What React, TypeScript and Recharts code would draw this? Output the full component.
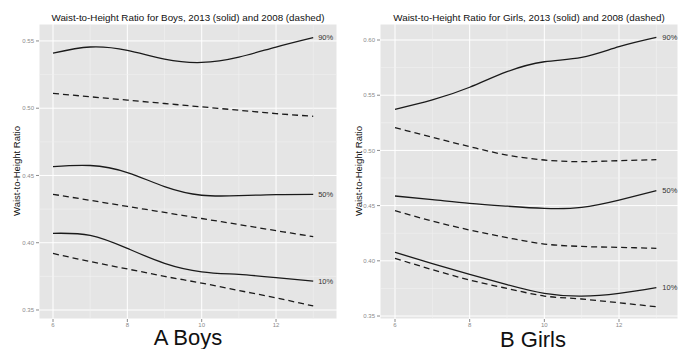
import React from "react";
import { LineChart, Line, XAxis, YAxis, CartesianGrid, ReferenceLine } from "recharts";

// ages on the x axis
const ages = [6, 7, 8, 9, 10, 11, 12, 13];
const xTicks = [6, 8, 10, 12];
const minorX = [7, 9, 11, 13];

// Boys, 2013 solid / 2008 dashed
const boys90_2013 = [0.541, 0.5455, 0.543, 0.5365, 0.534, 0.538, 0.5455, 0.5525];
const boys90_2008 = [0.511, 0.5085, 0.506, 0.5035, 0.501, 0.4985, 0.496, 0.494];
const boys50_2013 = [0.4566, 0.4574, 0.4522, 0.4417, 0.4353, 0.435, 0.4358, 0.436];
const boys50_2008 = [0.436, 0.4315, 0.427, 0.4225, 0.418, 0.4135, 0.409, 0.4045];
const boys10_2013 = [0.407, 0.4055, 0.3958, 0.3847, 0.3784, 0.3764, 0.3741, 0.3715];
const boys10_2008 = [0.392, 0.386, 0.3805, 0.375, 0.37, 0.3645, 0.359, 0.353];

// Girls
const girls90_2013 = [0.5372, 0.5457, 0.5572, 0.5713, 0.5803, 0.5843, 0.594, 0.6024];
const girls90_2008 = [0.5206, 0.512, 0.5034, 0.4958, 0.4913, 0.4898, 0.4907, 0.4916];
const girls50_2013 = [0.4587, 0.4555, 0.4521, 0.4495, 0.4475, 0.4484, 0.455, 0.4635];
const girls50_2008 = [0.4454, 0.436, 0.4279, 0.421, 0.4152, 0.413, 0.4122, 0.4113];
const girls10_2013 = [0.4077, 0.3975, 0.3878, 0.3785, 0.3706, 0.3681, 0.3706, 0.3757];
const girls10_2008 = [0.4023, 0.392, 0.3826, 0.375, 0.3681, 0.3654, 0.362, 0.3584];

const boysYTicks = [0.35, 0.4, 0.45, 0.5, 0.55];
const boysMinorY = [0.375, 0.425, 0.475, 0.525];
const girlsYTicks = [0.35, 0.4, 0.45, 0.5, 0.55, 0.6];
const girlsMinorY = [0.375, 0.425, 0.475, 0.525, 0.575];

const pctLabels = ["90%", "50%", "10%"];

const FONT = '"Liberation Sans", Arial, sans-serif';
const LINE = "#1a1a1a";

function rows(s90: number[], d90: number[], s50: number[], d50: number[], s10: number[], d10: number[]) {
  return ages.map((age, i) => ({
    age,
    s90: s90[i], d90: d90[i],
    s50: s50[i], d50: d50[i],
    s10: s10[i], d10: d10[i],
  }));
}

const boysData = rows(boys90_2013, boys90_2008, boys50_2013, boys50_2008, boys10_2013, boys10_2008);
const girlsData = rows(girls90_2013, girls90_2008, girls50_2013, girls50_2008, girls10_2013, girls10_2008);

const endLabel = (text: string, gap: number) => (props: any) => {
  if (props.index !== ages.length - 1) return null;
  return (
    <text x={props.x + gap} y={props.y} dy="0.35em" fontSize={7.5} fill="#333" fontFamily={FONT}>
      {text}
    </text>
  );
};

interface PanelProps {
  data: any[];
  width: number;
  yWidth: number;
  rightMargin: number;
  xDomain: [number, number];
  yDomain: [number, number];
  yTicks: number[];
  minorY: number[];
  labelGap: number;
}

function Panel({ data, width, yWidth, rightMargin, xDomain, yDomain, yTicks, minorY, labelGap }: PanelProps) {
  const tickStyle = { fontSize: 6, fill: "#8a8a8a", fontFamily: FONT };
  return (
    <LineChart width={width} height={349} data={data} margin={{ top: 24, right: rightMargin, bottom: 0, left: 0 }}>
      <CartesianGrid fill="#e5e5e5" stroke="#ffffff" strokeWidth={1} />
      {minorX.map((v) => (
        <ReferenceLine key={"mx" + v} x={v} stroke="#f2f2f2" strokeWidth={0.6} />
      ))}
      {minorY.map((v) => (
        <ReferenceLine key={"my" + v} y={v} stroke="#f2f2f2" strokeWidth={0.6} />
      ))}
      <XAxis
        type="number"
        dataKey="age"
        domain={xDomain}
        ticks={xTicks}
        allowDataOverflow
        axisLine={false}
        tickSize={3}
        tickMargin={1}
        tickLine={{ stroke: "#8a8a8a" }}
        tick={tickStyle}
        height={30}
      />
      <YAxis
        type="number"
        domain={yDomain}
        ticks={yTicks}
        allowDataOverflow
        axisLine={false}
        tickSize={3}
        tickLine={{ stroke: "#8a8a8a" }}
        tick={tickStyle}
        tickFormatter={(v: number) => v.toFixed(2)}
        width={yWidth}
      />
      {["90", "50", "10"].map((p, k) => (
        <Line
          key={"s" + p}
          dataKey={"s" + p}
          type="natural"
          stroke={LINE}
          strokeWidth={1.3}
          dot={false}
          isAnimationActive={false}
          label={endLabel(pctLabels[k], labelGap)}
        />
      ))}
      {["90", "50", "10"].map((p) => (
        <Line
          key={"d" + p}
          dataKey={"d" + p}
          type="monotone"
          stroke={LINE}
          strokeWidth={1.3}
          strokeDasharray="6 4"
          dot={false}
          isAnimationActive={false}
        />
      ))}
    </LineChart>
  );
}

const titleStyle: React.CSSProperties = {
  position: "absolute",
  top: 12,
  fontSize: 9.8,
  lineHeight: "12px",
  color: "#111",
  whiteSpace: "nowrap",
  transform: "translateX(-50%)",
};

const yTitleStyle: React.CSSProperties = {
  position: "absolute",
  top: 171,
  fontSize: 9.5,
  lineHeight: "10px",
  color: "#111",
  whiteSpace: "nowrap",
  transform: "translate(-50%, -50%) rotate(-90deg)",
};

const captionStyle: React.CSSProperties = {
  position: "absolute",
  fontSize: 22,
  lineHeight: "14px",
  color: "#111",
  whiteSpace: "nowrap",
  transform: "translateX(-50%)",
};

export default function App() {
  return (
    <div style={{ position: "fixed", left: 0, top: 0, width: 679, height: 349, background: "#fff", fontFamily: FONT, overflow: "hidden" }}>
      <div style={{ position: "absolute", left: 0, top: 0 }}>
        <Panel
          data={boysData}
          width={340}
          yWidth={39}
          rightMargin={3}
          xDomain={[5.623, 13.64]}
          yDomain={[0.3433, 0.5626]}
          yTicks={boysYTicks}
          minorY={boysMinorY}
          labelGap={5}
        />
      </div>
      <div style={{ position: "absolute", left: 340, top: 0 }}>
        <Panel
          data={girlsData}
          width={339}
          yWidth={40}
          rightMargin={1}
          xDomain={[5.598, 13.58]}
          yDomain={[0.3473, 0.6145]}
          yTicks={girlsYTicks}
          minorY={girlsMinorY}
          labelGap={6}
        />
      </div>
      <div style={{ ...titleStyle, left: 188 }}>Waist-to-Height Ratio for Boys, 2013 (solid) and 2008 (dashed)</div>
      <div style={{ ...titleStyle, left: 529 }}>Waist-to-Height Ratio for Girls, 2013 (solid) and 2008 (dashed)</div>
      <div style={{ ...yTitleStyle, left: 17 }}>Waist-to-Height Ratio</div>
      <div style={{ ...yTitleStyle, left: 359 }}>Waist-to-Height Ratio</div>
      <div style={{ ...captionStyle, left: 188, top: 330.5 }}>A Boys</div>
      <div style={{ ...captionStyle, left: 533, top: 333 }}>B Girls</div>
    </div>
  );
}
